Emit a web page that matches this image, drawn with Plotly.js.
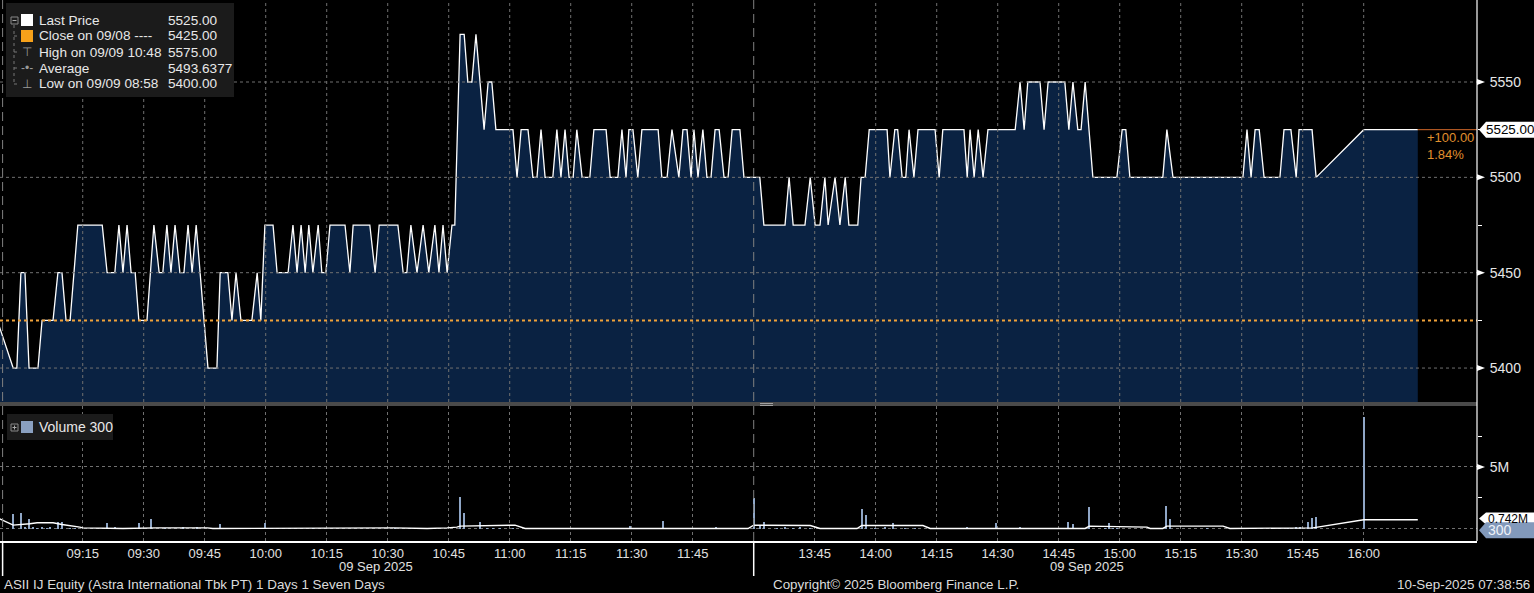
<!DOCTYPE html>
<html><head><meta charset="utf-8">
<script src="https://cdn.plot.ly/plotly-3.0.1.min.js"></script>
<style>html,body{margin:0;padding:0;background:#000;}#chart{width:1534px;height:593px;}</style>
</head><body><div id="chart"></div>
<script>
// ---------------- DATA ----------------
const priceTimes = ["08:54:00","08:57:54","08:58:48","08:59:48","09:00:48","09:01:48","09:04:00","09:05:00","09:07:42","09:08:54",
"09:09:54","09:10:54","09:11:54","09:13:48","09:19:48","09:21:00","09:22:54","09:23:54","09:24:54","09:25:54",
"09:26:54","09:27:54","09:28:48","09:30:48","09:32:30","09:33:48","09:34:42","09:35:42","09:36:42","09:37:42",
"09:38:54","09:39:54","09:40:54","09:41:54","09:42:54","09:45:48","09:48:00","09:48:48","09:50:42","09:51:42",
"09:52:42","09:53:54","09:56:36","09:57:54","09:58:48","09:59:48","10:01:48","10:02:48","10:05:30","10:06:42",
"10:07:42","10:08:42","10:09:42","10:10:36","10:11:36","10:12:54","10:13:48","10:14:48","10:15:48","10:19:30",
"10:20:42","10:21:30","10:25:36","10:26:54","10:27:54","10:32:30","10:33:48","10:34:42","10:35:42","10:37:12",
"10:38:42","10:40:06","10:41:36","10:42:36","10:43:36","10:44:36","10:45:48","10:46:30","10:47:48","10:48:48",
"10:49:42","10:50:42","10:51:42","10:53:42","10:54:42","10:55:36","10:56:36","11:00:48","11:01:48","11:02:48",
"11:04:30","11:05:42","11:06:42","11:07:42","11:08:42","11:10:36","11:11:36","11:12:36","11:13:36","11:14:36",
"11:15:36","11:16:30","11:17:48","11:19:42","11:20:42","11:23:42","11:24:42","11:26:36","11:27:36","11:28:36",
"11:29:18","11:30:18","11:31:30","11:32:30","11:36:30","11:37:24","11:38:42","11:39:54","11:41:36","11:42:36",
"11:43:36","11:44:36","11:45:18","11:46:18","11:47:30","11:48:30","11:49:30","11:50:30","11:51:30","11:52:42",
"11:53:42","11:54:42","11:56:36","11:57:36","13:31:30","13:32:30","13:37:42","13:38:42","13:39:42","13:42:36",
"13:43:54","13:45:06","13:46:18","13:47:30","13:48:18","13:50:00","13:51:12","13:52:30","13:53:24","13:55:36",
"13:56:24","13:57:24","13:58:24","14:02:48","14:03:30","14:04:42","14:05:24","14:06:30","14:07:24","14:08:12",
"14:09:24","14:10:24","14:14:36","14:15:36","14:16:30","14:21:42","14:22:30","14:23:12","14:24:12","14:25:12",
"14:26:24","14:27:36","14:34:18","14:35:30","14:36:30","14:37:24","14:40:24","14:41:24","14:42:24","14:46:30",
"14:47:30","14:48:30","14:49:42","14:50:30","14:51:30","14:53:24","14:59:18","15:00:36","15:01:30","15:02:30",
"15:10:36","15:11:36","15:13:06","15:30:18","15:31:18","15:32:18","15:33:18","15:34:18","15:35:30","15:39:24",
"15:40:24","15:42:06","15:43:24","15:44:06","15:47:18","15:48:18","16:00:00","16:13:18"];
const prices = [5425,5400,5400,5450,5450,5400,5400,5425,5425,5450,
5450,5425,5425,5475,5475,5450,5450,5475,5450,5475,
5450,5450,5425,5425,5475,5450,5450,5475,5450,5475,
5450,5450,5475,5450,5475,5400,5400,5450,5450,5425,
5450,5425,5425,5450,5425,5475,5475,5450,5450,5475,
5450,5475,5450,5475,5450,5475,5450,5450,5475,5475,
5450,5475,5475,5450,5475,5475,5450,5450,5475,5450,
5475,5450,5475,5450,5475,5450,5475,5475,5575,5575,
5550,5550,5575,5525,5550,5550,5525,5525,5500,5525,
5525,5500,5500,5525,5500,5500,5525,5500,5525,5500,
5500,5525,5500,5500,5525,5525,5500,5500,5525,5500,
5525,5525,5500,5525,5525,5500,5500,5525,5500,5525,
5525,5500,5525,5500,5525,5500,5500,5525,5525,5500,
5500,5525,5525,5500,5500,5475,5475,5500,5475,5475,
5500,5475,5475,5500,5475,5500,5475,5500,5475,5475,
5500,5500,5525,5525,5500,5525,5525,5500,5500,5525,
5500,5525,5525,5500,5525,5525,5500,5525,5500,5525,
5500,5525,5525,5550,5525,5550,5550,5525,5550,5550,
5525,5550,5525,5525,5550,5500,5500,5525,5525,5500,
5500,5525,5500,5500,5525,5500,5525,5525,5500,5500,
5525,5525,5500,5525,5525,5500,5525,5525];

const volTimes = ["08:57:48","08:59:48","09:00:48","09:01:48","09:02:48","09:03:48","09:05:00","09:06:12","09:07:00","09:08:54",
"09:09:48","09:11:54","09:13:06","09:21:00","09:23:00","09:28:48","09:31:48","09:35:12","09:39:42","09:43:06",
"09:48:48","09:59:48","10:11:36","10:31:48","10:41:36","10:47:48","10:48:48","10:52:42","10:54:24","10:55:54",
"10:57:36","11:00:48","11:10:36","11:16:30","11:29:36","11:37:42","11:50:42","13:30:00","13:31:30","13:32:30",
"13:35:42","13:37:42","13:39:42","13:41:24","13:43:54","13:56:36","13:57:36","13:59:48","14:02:18","14:04:18",
"14:07:12","14:09:42","14:22:30","14:29:36","14:35:30","14:47:18","14:48:30","14:52:30","14:56:24","14:57:24",
"14:58:24","14:59:18","15:11:24","15:12:24","15:21:30","15:27:06","15:33:18","15:37:30","15:41:24","15:43:18",
"15:44:18","15:46:18","15:47:18","15:48:18","16:00:00","16:13:18"];
const volumesM = [1.2,1.3,0.15,0.8,0.12,0.1,0.12,0.1,0.2,0.55,
0.55,0.1,0.08,0.5,0.2,0.5,0.8,0.05,0.2,0.2,
0.4,0.45,0.1,0.1,0.05,2.6,1.25,0.55,0.1,0.1,
0.1,0.1,0.1,0.05,0.25,0.65,0.12,2.5,0.35,0.6,
0.1,0.15,0.1,0.15,0.1,1.65,1.15,0.1,0.12,0.5,
0.1,0.1,0.12,0.5,0.2,0.55,0.4,1.75,0.1,0.5,
0.1,0.1,1.85,0.8,0.1,0.08,0.05,0.05,0.05,0.2,
0.2,0.6,0.85,0.95,9.0,0.0003];

const maTimes = ["08:54:00","08:57:54","09:02:00","09:03:48","09:07:42","09:09:54","09:14:18","09:15:00","09:24:54","09:29:48",
"09:33:18","09:45:36","09:47:00","10:31:18","10:39:42","10:44:36","10:47:00","10:47:48","10:52:42","11:01:18",
"11:03:48","11:58:36","13:30:00","13:33:18","13:43:54","13:46:18","13:55:24","13:56:36","14:11:36","14:13:24",
"14:51:30","14:52:30","15:01:48","15:06:42","15:07:30","15:10:36","15:11:36","15:25:24","15:27:06","15:44:18",
"15:47:30","16:00:00","16:13:18"];
const maValuesM = [0.9,0.31,0.42,0.5,0.5,0.36,0.15,0.09,0.04,0.09,
0.09,0.09,0.04,0.09,0.04,0.09,0.15,0.23,0.28,0.31,
0.04,0.04,0.31,0.31,0.28,0.04,0.04,0.28,0.28,0.04,
0.04,0.23,0.2,0.15,0.04,0.04,0.23,0.23,0.04,0.04,
0.09,0.742,0.742];

const tickTimes = ["09:15","09:30","09:45","10:00","10:15","10:30","10:45","11:00","11:15","11:30","11:45",
"13:45","14:00","14:15","14:30","14:45","15:00","15:15","15:30","15:45","16:00"];
const priceTicks = [5400,5450,5500,5550];
const priceMinorTicks = [5425,5475,5525];
const volTickVals = [0,5];
const volTickText = ["","5M"];
const legendLabels = ["Last Price","Close on 09/08 ----","High on 09/09 10:48","Average","Low on 09/09 08:58"];
const legendValues = ["5525.00","5425.00","5575.00","5493.6377","5400.00"];
const lastPrice = 5525, prevClose = 5425;
const changeText = "+100.00", changePctText = "1.84%";
const lastVolumeText = "300", volMAText = "0.742M", volMALevel = 0.742;
const sessionBreaks = ["08:55:18","13:30:00"];
const dateLabel = "09 Sep 2025";
const dateLabelTimes = ["10:27:00","14:52:00"];
const footerLeft = "ASII IJ Equity (Astra International Tbk PT) 1 Days 1 Seven Days";
const footerMid = "Copyright\u00a9 2025 Bloomberg Finance L.P.";
const footerRight = "10-Sep-2025 07:38:56";

// ---------------- HELPERS ----------------
// session minutes after 09:00, lunch break (12:00-13:30) collapsed
function sess(t){const p=t.split(':').map(Number);let m=(p[0]-9)*60+p[1]+(p[2]||0)/60;if(m>=270)m-=90;return m;}
const PW=1477, PH=541;
const px = x => x/PW;
const py = y => (PH-y)/PH;
const XR=[-5.34,357.86];
const YR=[5382.2,5593.0];
const Y2R=[-0.97,9.92];
const FONT = "Liberation Sans, Arial, sans-serif";
const gridCol = "#707070";

const px_x = priceTimes.map(sess);
const vol_x = volTimes.map(sess);
const ma_x = maTimes.map(sess);
const tick_x = tickTimes.map(t=>sess(t+":00"));

const traces = [
 {type:'scatter',mode:'lines',x:px_x,y:prices,xaxis:'x',yaxis:'y',
  line:{color:'#ffffff',width:1.3},fill:'tozeroy',fillcolor:'#0a2242',hoverinfo:'skip'},
 {type:'bar',x:vol_x,y:volumesM,xaxis:'x2',yaxis:'y2',width:0.5,
  marker:{color:'#8fa6c6',line:{width:0}},hoverinfo:'skip'},
 {type:'scatter',mode:'lines',x:ma_x,y:maValuesM,xaxis:'x2',yaxis:'y2',
  line:{color:'#ffffff',width:1.4},hoverinfo:'skip'}
];

const shapes = [];
// price pane grid (drawn above fill)
tick_x.forEach(m=>shapes.push({type:'line',xref:'x',yref:'y domain',x0:m,x1:m,y0:0,y1:1,layer:'above',line:{color:gridCol,width:1,dash:'dot'}}));
priceTicks.forEach(v=>shapes.push({type:'line',xref:'paper',yref:'y',x0:0,x1:1,y0:v,y1:v,layer:'above',line:{color:gridCol,width:1,dash:'dot'}}));
// previous close
shapes.push({type:'line',xref:'paper',yref:'y',x0:0,x1:1,y0:prevClose,y1:prevClose,layer:'above',line:{color:'#f0a23a',width:2,dash:'dot'}});
// last price extension
shapes.push({type:'line',xref:'x',yref:'y',x0:px_x[px_x.length-1],x1:XR[1],y0:lastPrice,y1:lastPrice,layer:'above',line:{color:'#d2692a',width:1}});
// session break lines
sessionBreaks.forEach(t=>{const m=sess(t);
 shapes.push({type:'line',xref:'x',yref:'paper',x0:m,x1:m,y0:0,y1:1,layer:'above',line:{color:'#808080',width:1,dash:'9px,5px'}});
 shapes.push({type:'line',xref:'x',yref:'paper',x0:m,x1:m,y0:py(576),y1:0,layer:'above',line:{color:'#ffffff',width:1.5}});
});
// separator between panes
shapes.push({type:'rect',xref:'paper',yref:'paper',x0:0,x1:1,y0:py(406),y1:py(402),fillcolor:'#4a4a4a',line:{width:0},layer:'above'});
shapes.push({type:'line',xref:'paper',yref:'paper',x0:px(760),x1:px(773),y0:py(403.5),y1:py(403.5),line:{color:'#a0a0a0',width:1},layer:'above'});
shapes.push({type:'line',xref:'paper',yref:'paper',x0:px(760),x1:px(773),y0:py(405.5),y1:py(405.5),line:{color:'#a0a0a0',width:1},layer:'above'});
// right axis line
shapes.push({type:'line',xref:'paper',yref:'paper',x0:1,x1:1,y0:0,y1:1,line:{color:'#ffffff',width:1.2},layer:'above'});
// arrow tick markers price axis
const yu = (YR[1]-YR[0])/402; // units per px in price pane
priceTicks.forEach(v=>shapes.push({type:'path',xref:'paper',yref:'y',
 path:`M ${1} ${v+3*yu} L ${1+8/PW} ${v} L ${1} ${v-3*yu} Z`,fillcolor:'#ffffff',line:{width:0},layer:'above'}));
const y2u = (Y2R[1]-Y2R[0])/135;
shapes.push({type:'path',xref:'paper',yref:'y2',path:`M 1 ${5+3*y2u} L ${1+8/PW} 5 L 1 ${5-3*y2u} Z`,fillcolor:'#ffffff',line:{width:0},layer:'above'});
// last price label arrow
shapes.push({type:'path',xref:'paper',yref:'y',path:`M ${1+2/PW} ${lastPrice} L ${1+9/PW} ${lastPrice+8*yu} L ${1+9/PW} ${lastPrice-8*yu} Z`,fillcolor:'#ffffff',line:{width:0},layer:'above'});
// volume labels arrows
shapes.push({type:'path',xref:'paper',yref:'y2',path:`M ${1+2/PW} ${volMALevel+0.1} L ${1+9/PW} ${volMALevel+0.1+6*y2u} L ${1+9/PW} ${volMALevel+0.1-6*y2u} Z`,fillcolor:'#ffffff',line:{width:0},layer:'above'});
shapes.push({type:'path',xref:'paper',yref:'y2',path:`M ${1+2/PW} -0.1 L ${1+9/PW} ${-0.1+8*y2u} L ${1+9/PW} ${-0.1-8*y2u} Z`,fillcolor:'#8299bb',line:{width:0},layer:'above'});
// label box backgrounds reaching the right edge
shapes.push({type:'rect',xref:'paper',yref:'y',x0:1+9/PW,x1:1534/PW,y0:lastPrice-8*yu,y1:lastPrice+8*yu,fillcolor:'#ffffff',line:{width:0},layer:'above'});
shapes.push({type:'rect',xref:'paper',yref:'y2',x0:1+9/PW,x1:1534/PW,y0:volMALevel+0.1-6*y2u,y1:volMALevel+0.1+6*y2u,fillcolor:'#ffffff',line:{width:0},layer:'above'});
// legend boxes
shapes.push({type:'rect',xref:'paper',yref:'paper',x0:px(6),x1:px(234),y0:py(97),y1:py(3),fillcolor:'#1b1b1b',line:{width:0},layer:'above'});
shapes.push({type:'rect',xref:'paper',yref:'paper',x0:px(21),x1:px(33),y0:py(26),y1:py(14),fillcolor:'#ffffff',line:{width:0},layer:'above'});
shapes.push({type:'rect',xref:'paper',yref:'paper',x0:px(21),x1:px(33),y0:py(42),y1:py(30),fillcolor:'#f7a11a',line:{width:0},layer:'above'});
// tree lines
shapes.push({type:'line',xref:'paper',yref:'paper',x0:px(14),x1:px(14),y0:py(25),y1:py(84),line:{color:'#777',width:1,dash:'dot'},layer:'above'});
[36,52,68,84].forEach(r=>shapes.push({type:'line',xref:'paper',yref:'paper',x0:px(14),x1:px(20),y0:py(r),y1:py(r),line:{color:'#777',width:1,dash:'dot'},layer:'above'}));
shapes.push({type:'rect',xref:'paper',yref:'paper',x0:px(11),x1:px(18),y0:py(24),y1:py(17),line:{color:'#888',width:1},layer:'above'});
shapes.push({type:'line',xref:'paper',yref:'paper',x0:px(12.5),x1:px(16.5),y0:py(20.5),y1:py(20.5),line:{color:'#aaa',width:1},layer:'above'});
// volume legend
shapes.push({type:'rect',xref:'paper',yref:'paper',x0:px(7),x1:px(113),y0:py(440),y1:py(414),fillcolor:'#1b1b1b',line:{width:0},layer:'above'});
shapes.push({type:'rect',xref:'paper',yref:'paper',x0:px(21),x1:px(33),y0:py(433),y1:py(421),fillcolor:'#8aa0c0',line:{width:0},layer:'above'});
shapes.push({type:'rect',xref:'paper',yref:'paper',x0:px(11),x1:px(18),y0:py(431),y1:py(424),line:{color:'#888',width:1},layer:'above'});
shapes.push({type:'line',xref:'paper',yref:'paper',x0:px(12.5),x1:px(16.5),y0:py(427.5),y1:py(427.5),line:{color:'#aaa',width:1},layer:'above'});
shapes.push({type:'line',xref:'paper',yref:'paper',x0:px(14.5),x1:px(14.5),y0:py(425.5),y1:py(429.5),line:{color:'#aaa',width:1},layer:'above'});

const ann = [];
const rowsY = [20.5,36,52,68,84];
const icons = ["","","\u22A4","-\u2022-","\u22A5"];
legendLabels.forEach((t,i)=>{
 ann.push({xref:'paper',yref:'paper',x:px(37),y:py(rowsY[i]),text:t,showarrow:false,xanchor:'left',yanchor:'middle',font:{family:FONT,size:13.6,color:'#e8e8e8'}});
 ann.push({xref:'paper',yref:'paper',x:px(166),y:py(rowsY[i]),text:legendValues[i],showarrow:false,xanchor:'left',yanchor:'middle',font:{family:FONT,size:13.6,color:'#e8e8e8'}});
 if(icons[i]) ann.push({xref:'paper',yref:'paper',x:px(27),y:py(rowsY[i]),text:icons[i],showarrow:false,xanchor:'center',yanchor:'middle',font:{family:FONT,size:12,color:'#9a9a9a'}});
});
ann.push({xref:'paper',yref:'paper',x:px(37),y:py(427),text:'Volume '+lastVolumeText,showarrow:false,xanchor:'left',yanchor:'middle',font:{family:FONT,size:14,color:'#e8e8e8'}});
// change text
ann.push({xref:'paper',yref:'y',x:px(1425),y:lastPrice,yshift:-8,text:changeText,showarrow:false,xanchor:'left',yanchor:'middle',font:{family:FONT,size:13,color:'#e0902e'}});
ann.push({xref:'paper',yref:'y',x:px(1425),y:lastPrice,yshift:-25,text:changePctText,showarrow:false,xanchor:'left',yanchor:'middle',font:{family:FONT,size:13,color:'#e0902e'}});
// last price label
ann.push({xref:'paper',yref:'y',x:px(1484),y:lastPrice,text:lastPrice.toFixed(2),showarrow:false,xanchor:'left',yanchor:'middle',font:{family:FONT,size:13.4,color:'#000000'}});
// volume labels (0.742M sits partly under the 300 box, as in the original)
ann.push({xref:'paper',yref:'y2',x:px(1486),y:volMALevel+0.1,text:volMAText,showarrow:false,xanchor:'left',yanchor:'middle',font:{family:FONT,size:12,color:'#000000'}});
shapes.push({type:'rect',xref:'paper',yref:'y2',x0:1+9/PW,x1:1534/PW,y0:-0.1-8*y2u,y1:-0.1+8*y2u,fillcolor:'#8299bb',line:{width:0},layer:'above'});
ann.push({xref:'paper',yref:'y2',x:px(1486),y:-0.1,text:lastVolumeText,showarrow:false,xanchor:'left',yanchor:'middle',font:{family:FONT,size:14,color:'#eef2f8'}});
// date labels
dateLabelTimes.forEach(t=>ann.push({xref:'x2',yref:'paper',x:sess(t),y:py(566),text:dateLabel,showarrow:false,xanchor:'center',yanchor:'middle',font:{family:FONT,size:13,color:'#e0e0e0'}}));
// footer
ann.push({xref:'paper',yref:'paper',x:px(2),y:py(584),text:footerLeft,showarrow:false,xanchor:'left',yanchor:'middle',font:{family:FONT,size:13.4,color:'#dcdcdc'}});
ann.push({xref:'paper',yref:'paper',x:px(896),y:py(584),text:footerMid,showarrow:false,xanchor:'center',yanchor:'middle',font:{family:FONT,size:13.4,color:'#dcdcdc'}});
ann.push({xref:'paper',yref:'paper',x:px(1532),y:py(584),text:footerRight,showarrow:false,xanchor:'right',yanchor:'middle',font:{family:FONT,size:13.4,color:'#dcdcdc'}});

const layout = {
 width:1534,height:593,margin:{l:0,r:57,t:0,b:52},
 paper_bgcolor:'#000',plot_bgcolor:'#000',showlegend:false,
 font:{family:FONT,color:'#e0e0e0'},
 xaxis:{domain:[0,1],anchor:'y',range:XR,showgrid:false,zeroline:false,showticklabels:false,ticks:'',showline:false},
 yaxis:{domain:[py(402),1],anchor:'x',side:'right',range:YR,tickmode:'array',tickvals:priceTicks,showgrid:false,zeroline:false,
   ticks:'outside',ticklen:9,tickcolor:'rgba(0,0,0,0)',showline:false,
   tickfont:{family:FONT,size:14,color:'#e6e6e6'},
   minor:{tickmode:'array',tickvals:priceMinorTicks,ticks:'outside',ticklen:4,tickcolor:'#ffffff',showgrid:false}},
 xaxis2:{domain:[0,1],anchor:'y2',matches:'x',range:XR,tickmode:'array',tickvals:tick_x,ticktext:tickTimes,
   showgrid:true,gridcolor:gridCol,griddash:'dot',gridwidth:1,zeroline:false,ticks:'',
   showline:true,linecolor:'#ffffff',linewidth:1.5,tickfont:{family:FONT,size:13,color:'#e0e0e0'}},
 yaxis2:{domain:[0,py(406)],anchor:'x2',side:'right',range:Y2R,tickmode:'array',tickvals:volTickVals,ticktext:volTickText,
   showgrid:true,gridcolor:gridCol,griddash:'dot',zeroline:false,ticks:'outside',ticklen:9,tickcolor:'rgba(0,0,0,0)',
   tickfont:{family:FONT,size:14,color:'#e6e6e6'},showline:false,
   minor:{tickmode:'array',tickvals:[2.5,7.5],ticks:'outside',ticklen:4,tickcolor:'#ffffff',showgrid:false}},
 bargap:0,shapes:shapes,annotations:ann
};
Plotly.newPlot('chart',traces,layout,{displayModeBar:false,staticPlot:true});
</script></body></html>
